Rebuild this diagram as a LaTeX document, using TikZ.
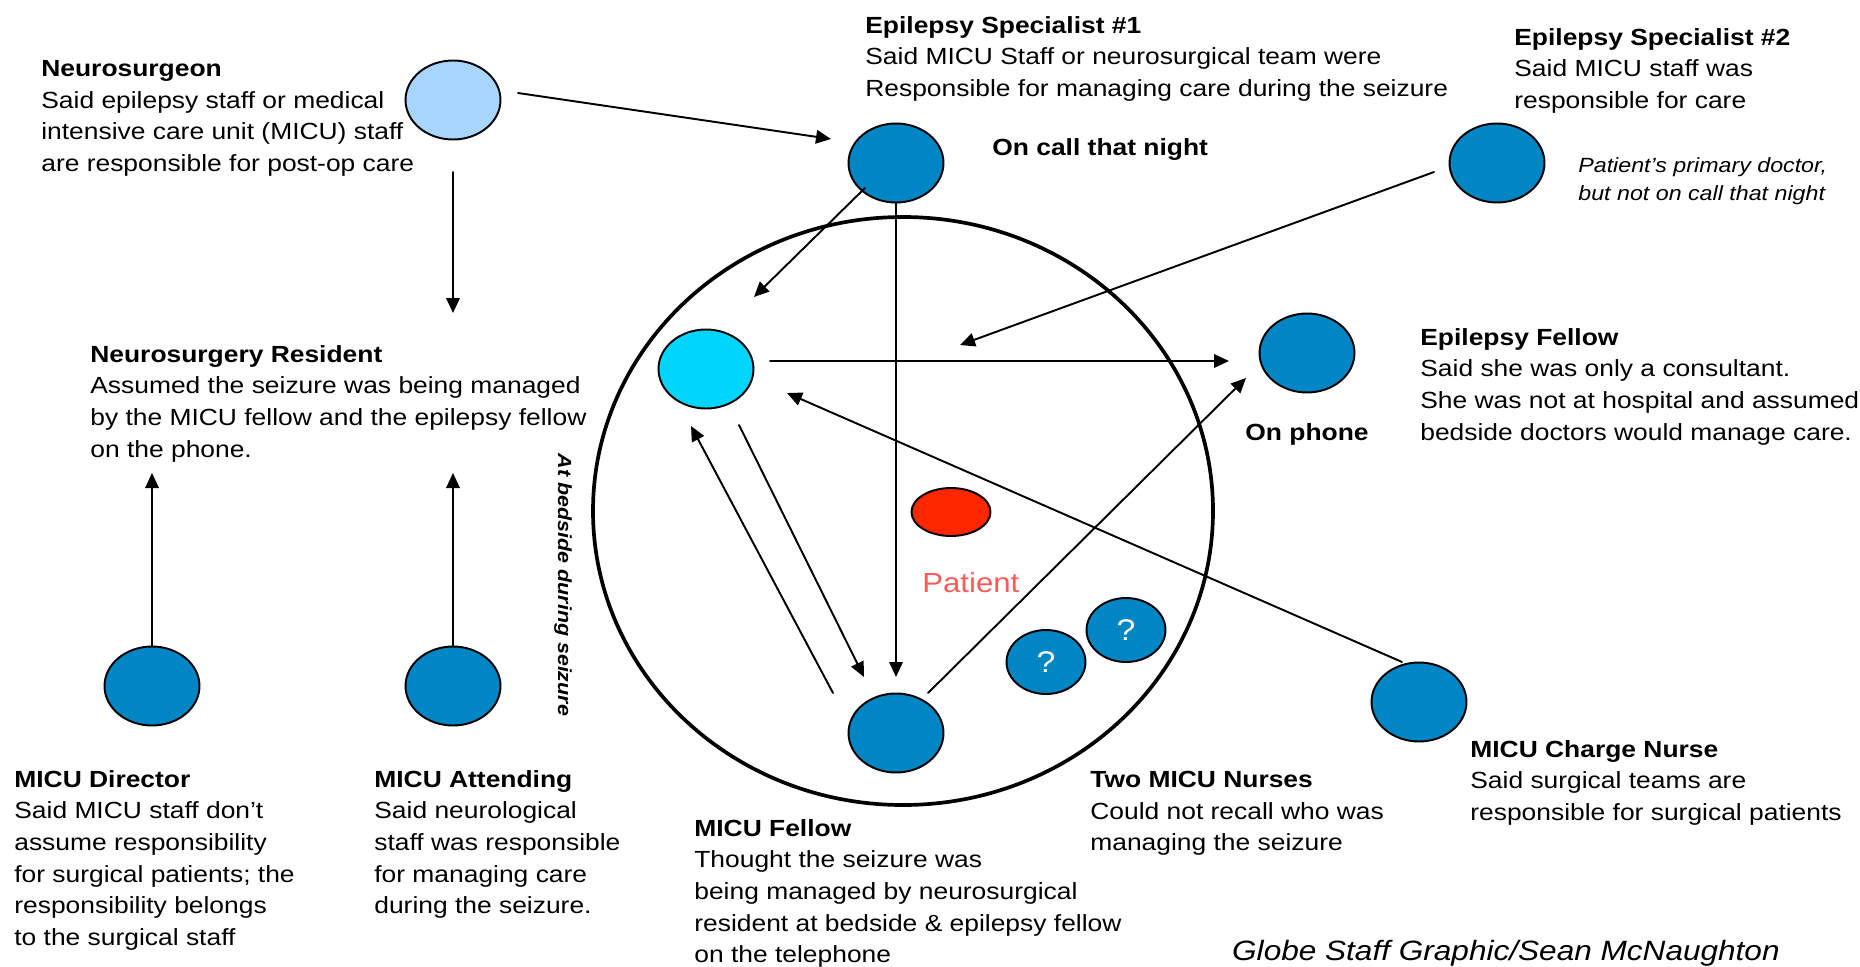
\documentclass[tikz,border=0pt]{standalone}
\usepackage{fontspec}
\setmainfont{Liberation Sans}[FakeStretch=1.13]
\usetikzlibrary{arrows.meta,calc,shapes.geometric}
\definecolor{docblue}{RGB}{0,134,196}
\definecolor{surgblue}{RGB}{168,214,255}
\definecolor{bedcyan}{RGB}{0,213,255}
\definecolor{patred}{RGB}{255,38,0}
\definecolor{patlabel}{RGB}{255,90,90}
\tikzset{
  person/.style={ellipse,draw=black,line width=1.1pt,fill=docblue,
    minimum width=1.9cm,minimum height=1.58cm,inner sep=0pt},
  nurse/.style={person,minimum width=1.58cm,minimum height=1.28cm,
    text=white,font=\fontsize{17}{20}\selectfont},
  link/.style={-{Triangle[length=0.3cm,width=0.27cm]},line width=1.1pt},
  info/.style={anchor=north west,align=left,inner sep=0pt,
    font=\fontsize{13.3}{18}\selectfont},
  remark/.style={inner sep=0pt,font=\fontsize{13.3}{18}\selectfont\bfseries}
}

\begin{document}
\begin{tikzpicture}[x=0.02cm,y=-0.02cm,line cap=round,line join=round]
  % ---- page frame (pixels of the graphic, y downwards) ----
  \useasboundingbox (0,0) rectangle (1860,967);

  % ---- bedside ring ----
  \draw[line width=2.1pt] (903,511) ellipse (310 and 294);

  % ---- people ----
  \node[person,fill=surgblue] (ns) at (453,100) {};
  \node[person] (es1) at (896,163) {};
  \node[person] (es2) at (1497,163) {};
  \node[person,fill=bedcyan] (res) at (706,369) {};
  \node[person] (efel) at (1307,353) {};
  \node[person,fill=patred,minimum width=1.58cm,minimum height=0.96cm] (pat) at (951,512) {};
  \node[person] (fel) at (896,733) {};
  \node[nurse] (nur1) at (1046,662) {?};
  \node[nurse] (nur2) at (1126,630) {?};
  \node[person] (dir) at (152,686) {};
  \node[person] (att) at (453,686) {};
  \node[person] (chg) at (1419,702) {};

  % ---- who pointed at whom ----
  \draw[link] ($(ns)+(65,-7)$) -- ($(es1)+(-65,-24)$);
  \draw[link] ($(ns)+(0,72)$) -- ($(ns)+(0,213)$);   % down to the resident
  \draw[link] (dir.north) -- ($(dir)+(0,-213)$);
  \draw[link] (att.north) -- ($(att)+(0,-213)$);
  \draw[link] (es1.south) -- ($(fel)+(0,-56)$);
  \draw[link] ($(es1)+(-31,25)$) -- ($(res)+(48,-72)$);
  \draw[link] ($(res)+(64,-8)$) -- ($(efel)+(-78,8)$);
  \draw[link] ($(es2)+(-63,9)$) -- ($(res)+(254,-24)$);
  \draw[link] ($(res)+(33,56)$) -- ($(fel)+(-32,-56)$);
  \draw[link] ($(fel)+(-63,-40)$) -- ($(res)+(-15,57)$);
  \draw[link] ($(fel)+(32,-40)$) -- ($(efel)+(-61,25)$);
  \draw[link] ($(chg)+(-17,-40)$) -- ($(res)+(81,24)$);

  % ---- statements ----
  \node[info] (nstxt) at (41,60) {\textbf{Neurosurgeon}\\Said epilepsy staff or medical\\intensive care unit (MICU) staff\\are responsible for post-op care};
  \node[info] (restxt) at (90,345) {\textbf{Neurosurgery Resident}\\Assumed the seizure was being managed\\by the MICU fellow and the epilepsy fellow\\on the phone.};
  \node[info] (es1txt) at (865,16) {\textbf{Epilepsy Specialist \#1}\\Said MICU Staff or neurosurgical team were\\Responsible for managing care during the seizure};
  \node[info] (es2txt) at (1514,28) {\textbf{Epilepsy Specialist \#2}\\Said MICU staff was\\responsible for care};
  \node[info] (efeltxt) at (1420,328) {\textbf{Epilepsy Fellow}\\Said she was only a consultant.\\She was not at hospital and assumed\\bedside doctors would manage care.};
  \node[info] (dirtxt) at (14,770) {\textbf{MICU Director}\\Said MICU staff don’t\\assume responsibility\\for surgical patients; the\\responsibility belongs\\to the surgical staff};
  \node[info] (atttxt) at (374,770) {\textbf{MICU Attending}\\Said neurological\\staff was responsible\\for managing care\\during the seizure.};
  \node[info] (feltxt) at (694,819) {\textbf{MICU Fellow}\\Thought the seizure was\\being managed by neurosurgical\\resident at bedside \& epilepsy fellow\\on the telephone};
  \node[info] (nurtxt) at (1090,771) {\textbf{Two MICU Nurses}\\Could not recall who was\\managing the seizure};
  \node[info] (chgtxt) at (1470,740) {\textbf{MICU Charge Nurse}\\Said surgical teams are\\responsible for surgical patients};

  % ---- side remarks ----
  \node[remark,anchor=base west] (oncall) at (992,155) {On call that night};
  \node[remark,anchor=base] (onphone) at (1307,440) {On phone};
  \node[info,font=\fontsize{11.7}{15.9}\selectfont\itshape] (primary) at (1578,157) {Patient’s primary doctor,\\but not on call that night};
  \node[remark,rotate=-90,font=\fontsize{10.8}{12}\selectfont\bfseries\itshape] (bedside) at (563,585) {At bedside during seizure};
  \node[anchor=base west,inner sep=0pt,text=patlabel,font=\fontsize{15.7}{18}\selectfont] (patlbl) at (922,592) {Patient};
  \node[anchor=base east,inner sep=0pt,font=\fontsize{15.9}{19}\selectfont\itshape] (credit) at (1780,960) {Globe Staff Graphic/Sean McNaughton};
\end{tikzpicture}
\end{document}
